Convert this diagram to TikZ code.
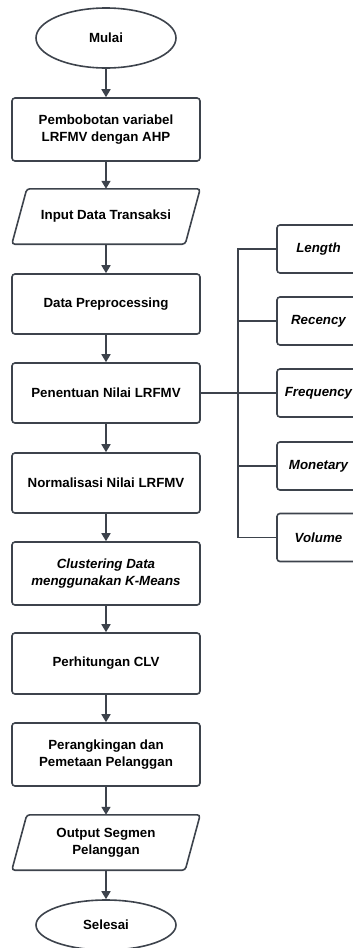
\documentclass[tikz,border=0pt]{standalone}
\usepackage{fontspec}
\setmainfont{Liberation Sans}
\usepackage{xcolor}
\usetikzlibrary{positioning,arrows.meta,shapes.geometric}
\definecolor{lineclr}{HTML}{3D434C}

\begin{document}
\begin{tikzpicture}[x=1pt,y=-1pt,
    font=\fontsize{13.3}{16.7}\selectfont\bfseries,
    base/.style={draw=lineclr, line width=1.6pt, align=center, inner sep=0pt},
    proc/.style={base, rounded corners=3pt, minimum width=188pt},
    term/.style={base, ellipse, minimum width=140pt},
    io/.style={align=center, inner sep=0pt, minimum width=173pt, minimum height=55pt},
    var/.style={base, rounded corners=3pt, minimum width=83pt, minimum height=48pt, font=\fontsize{13.3}{16.7}\selectfont\bfseries\itshape},
    flow/.style={draw=lineclr, line width=1.6pt, -{Triangle[length=8pt,width=9pt]}},
    link/.style={draw=lineclr, line width=1.6pt}]
\useasboundingbox (0,0) rectangle (353,948);
\clip (0,0) rectangle (353,948);

% Main flow
\node[term, minimum height=60pt] (mulai) at (106,38) {Mulai};
\node[proc, minimum height=63pt] (ahp) at (106,129.5) {Pembobotan variabel\\LRFMV dengan AHP};
\node[io] (input) at (106,216.5) {Input Data Transaksi};
\node[proc, minimum height=60pt] (prep) at (106,304) {Data Preprocessing};
\node[proc, minimum height=60pt] (nilai) at (106,393) {Penentuan Nilai LRFMV};
\node[proc, minimum height=60pt] (norm) at (106,483) {Normalisasi Nilai LRFMV};
\node[proc, minimum height=63pt] (kmeans) at (106,573.5) {\itshape Clustering Data\\\itshape menggunakan K-Means};
\node[proc, minimum height=61pt] (clv) at (106,663.5) {Perhitungan CLV};
\node[proc, minimum height=63pt] (rank) at (106,754.5) {Perangkingan dan\\Pemetaan Pelanggan};
\node[io] (output) at (106,842.5) {Output Segmen\\Pelanggan};
\node[term, minimum height=50pt] (selesai) at (106,925) {Selesai};

% Parallelograms round the io nodes
\foreach \p in {input,output}
    \draw[link, rounded corners=3pt] ([xshift=7.5pt]\p.north west) -- ([xshift=7.5pt]\p.north east)
        -- ([xshift=-7.5pt]\p.south east) -- ([xshift=-7.5pt]\p.south west) -- cycle;

\draw[flow] (mulai) -- (ahp);
\draw[flow] (ahp) -- (input);
\draw[flow] (input) -- (prep);
\draw[flow] (prep) -- (nilai);
\draw[flow] (nilai) -- (norm);
\draw[flow] (norm) -- (kmeans);
\draw[flow] (kmeans) -- (clv);
\draw[flow] (clv) -- (rank);
\draw[flow] (rank) -- (output);
\draw[flow] (output) -- (selesai);

% LRFMV variables
\node[var] (len) at (318.5,249) {Length};
\node[var] (rec) at (318.5,321) {Recency};
\node[var] (freq) at (318.5,393) {Frequency};
\node[var] (mon) at (318.5,466) {Monetary};
\node[var] (vol) at (318.5,537.5) {Volume};

\coordinate (bus) at (238,537.5);
\draw[link] (len.west) -| (bus) -- (vol.west);
\foreach \v in {rec,mon}
    \draw[link] (\v.west) -- (\v.west -| bus);
\draw[link] (nilai.east) -- (freq.west);
\end{tikzpicture}
\end{document}
